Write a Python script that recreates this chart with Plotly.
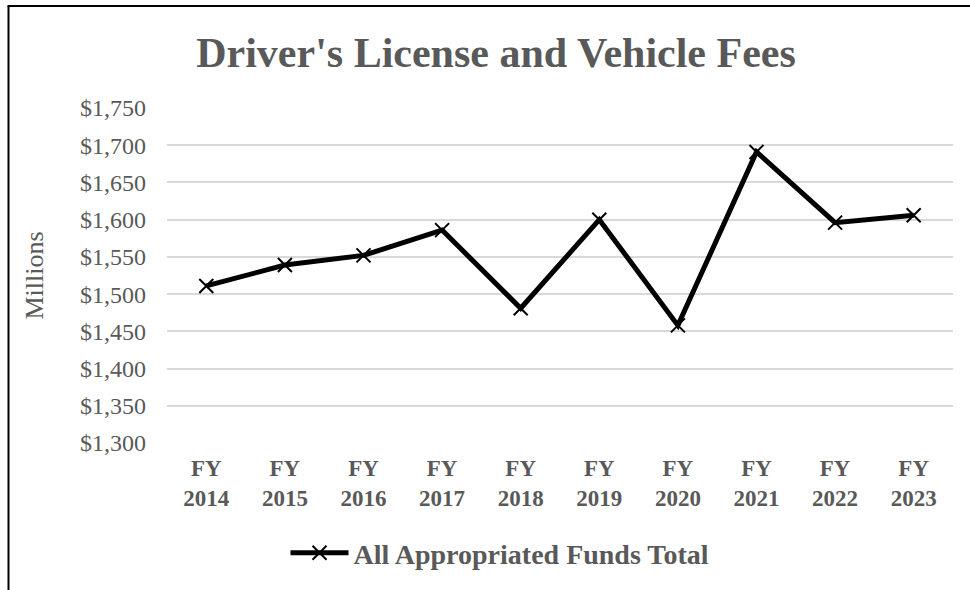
import plotly.graph_objects as go

categories = ["FY<br>2014", "FY<br>2015", "FY<br>2016", "FY<br>2017", "FY<br>2018",
              "FY<br>2019", "FY<br>2020", "FY<br>2021", "FY<br>2022", "FY<br>2023"]
values = [1511, 1539, 1552, 1586, 1481, 1600, 1458, 1691, 1596, 1606]
y_ticks = [1300, 1350, 1400, 1450, 1500, 1550, 1600, 1650, 1700, 1750]
y_tick_labels = ["$" + format(v, ",") for v in y_ticks]
series_name = "All Appropriated Funds Total"

GRAY = "#595959"
FONT = "Liberation Serif, Times New Roman, serif"

fig = go.Figure()
fig.add_trace(go.Scatter(
    x=categories, y=values, name="<b>" + series_name + "</b>", mode="lines+markers",
    line=dict(color="black", width=5),
    marker=dict(symbol="x-thin", size=14, line=dict(color="black", width=2), color="black"),
))

L, R, T, B = 167, 17, 108, 147
W, H = 970, 590
pw, ph = W - L - R, H - T - B

def px(x):
    return (x - L) / pw

def py(y):
    return (H - B - y) / ph

fig.update_layout(
    width=W, height=H,
    margin=dict(l=L, r=R, t=T, b=B, autoexpand=False),
    paper_bgcolor="white", plot_bgcolor="white",
    font=dict(family=FONT, color=GRAY),
    title=dict(text="<b>Driver's License and Vehicle Fees</b>", x=px(496), xanchor="center",
               xref="paper", y=1 - 52 / H, yanchor="middle",
               font=dict(size=42, color=GRAY, family=FONT)),
    xaxis=dict(showgrid=False, showline=False, ticks="", zeroline=False, automargin=False,
               range=[-0.5, len(categories) - 0.5],
               tickmode="array", tickvals=categories,
               ticktext=["<b>" + c + "</b>" for c in categories],
               tickfont=dict(size=23, color=GRAY, family=FONT), tickangle=0,
               ticklabelstandoff=9),
    yaxis=dict(range=[1300, 1750], tickvals=y_ticks, ticktext=y_tick_labels, automargin=False,
               showgrid=True, gridcolor="#d9d9d9", gridwidth=1.5, zeroline=False,
               showline=False, ticks="", ticklabelstandoff=20,
               tickfont=dict(size=24, color=GRAY, family=FONT),
               title=dict(text="Millions", font=dict(size=26, color=GRAY, family=FONT), standoff=28)),
    legend=dict(orientation="h", x=px(500), xanchor="center", y=py(553), yanchor="middle",
                itemwidth=58, font=dict(size=28, color=GRAY, family=FONT)),
    showlegend=True,
    shapes=[
        dict(type="line", xref="paper", yref="paper", x0=px(8.5), x1=px(8.5), y0=py(595), y1=py(6),
             line=dict(color="black", width=2)),
        dict(type="line", xref="paper", yref="paper", x0=px(7.5), x1=px(975), y0=py(6), y1=py(6),
             line=dict(color="black", width=2)),
    ],
)
fig.write_html("out.html", config={"displayModeBar": False},
               post_script="document.body.style.margin='0';document.body.style.overflow='hidden';")
